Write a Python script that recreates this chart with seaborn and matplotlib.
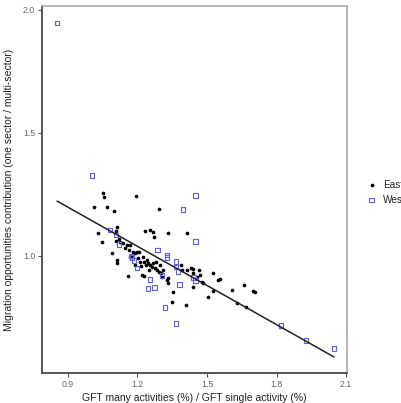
import matplotlib
matplotlib.use("Agg")
import matplotlib.pyplot as plt
import seaborn as sns
import numpy as np
import pandas as pd

east_x = [1.051, 1.055, 1.012, 1.068, 1.099, 1.193, 1.293, 1.029, 1.047, 1.090,
          1.111, 1.107, 1.107, 1.120, 1.124, 1.137, 1.155, 1.168, 1.146, 1.163,
          1.181, 1.189, 1.198, 1.206, 1.232, 1.254, 1.267, 1.271, 1.332, 1.414,
          1.111, 1.111, 1.168, 1.176, 1.224, 1.241, 1.228, 1.237, 1.245, 1.254,
          1.263, 1.267, 1.275, 1.284, 1.293, 1.301, 1.310, 1.306, 1.327, 1.332,
          1.159, 1.219, 1.228, 1.353, 1.349, 1.409, 1.388, 1.392, 1.414, 1.431,
          1.440, 1.440, 1.457, 1.470, 1.478, 1.483, 1.465, 1.440, 1.526, 1.547,
          1.556, 1.526, 1.608, 1.660, 1.698, 1.707, 1.504, 1.629, 1.668, 1.332,
          1.202, 1.211, 1.189, 1.215, 1.250, 1.280, 1.297]
east_y = [1.255, 1.239, 1.198, 1.198, 1.182, 1.243, 1.190, 1.093, 1.057, 1.012,
          1.117, 1.101, 1.061, 1.069, 1.057, 1.053, 1.045, 1.045, 1.032, 1.024,
          1.016, 1.012, 1.016, 1.016, 1.101, 1.105, 1.097, 1.077, 1.093, 1.093,
          0.984, 0.972, 0.996, 1.000, 0.996, 0.984, 0.976, 0.964, 0.972, 0.964,
          0.955, 0.972, 0.951, 0.943, 0.935, 0.931, 0.943, 0.915, 0.903, 0.891,
          0.919, 0.923, 0.919, 0.854, 0.814, 0.802, 0.964, 0.943, 0.943, 0.951,
          0.947, 0.931, 0.915, 0.923, 0.895, 0.891, 0.943, 0.874, 0.931, 0.903,
          0.907, 0.858, 0.862, 0.883, 0.858, 0.854, 0.834, 0.810, 0.794, 0.911,
          0.992, 0.976, 0.964, 0.960, 0.943, 0.976, 0.964]

west_x = [0.853, 1.004, 1.452, 1.396, 1.081, 1.107, 1.120, 1.288, 1.327, 1.327,
          1.366, 1.366, 1.375, 1.176, 1.185, 1.198, 1.254, 1.245, 1.275, 1.306,
          1.383, 1.319, 1.366, 1.452, 1.440, 1.452, 1.819, 1.927, 2.048, 1.172]
west_y = [1.947, 1.328, 1.247, 1.190, 1.105, 1.085, 1.045, 1.024, 1.004, 0.992,
          0.976, 0.955, 0.935, 0.992, 0.980, 0.951, 0.903, 0.866, 0.870, 0.919,
          0.883, 0.789, 0.725, 1.057, 0.911, 0.899, 0.717, 0.656, 0.623, 1.000]

x_ticks = [0.9, 1.2, 1.5, 1.8, 2.1]
y_ticks = [1.0, 1.5, 2.0]
x_label = "GFT many activities (%) / GFT single activity (%)"
y_label = "Migration opportunities contribution (one sector / multi-sector)"

df = pd.DataFrame({
    "x": east_x + west_x,
    "y": east_y + west_y,
    "group": ["East"] * len(east_x) + ["West"] * len(west_x),
})

sns.set_style("white")
plt.rcParams["font.family"] = ["Liberation Sans", "DejaVu Sans"]

fig = plt.figure(figsize=(4.01, 4.03), dpi=100)
ax = fig.add_axes([42 / 401, 1 - 373 / 403, (347 - 42) / 401, (373 - 6) / 403])

blue = "#6262dc"
sns.scatterplot(data=df[df.group == "East"], x="x", y="y", ax=ax, color="black",
                marker="o", s=7, linewidth=0, label="East")
sns.scatterplot(data=df[df.group == "West"], x="x", y="y", ax=ax, marker="s", s=12,
                facecolor="none", edgecolor=blue, linewidth=0.85, label="West")
sns.regplot(data=df, x="x", y="y", ax=ax, scatter=False, ci=None, truncate=True,
            line_kws={"color": "#222222", "linewidth": 1.1})

ax.set_xlim(0.788, 2.104)
ax.set_ylim(0.524, 2.016)
ax.set_xticks(x_ticks)
ax.set_xticklabels([f"{t:.1f}" for t in x_ticks])
ax.set_yticks(y_ticks)
ax.set_yticklabels([f"{t:.1f}" for t in y_ticks])
ax.set_xlabel(x_label, fontsize=7.5, color="#222222", labelpad=3)
ax.set_ylabel(y_label, fontsize=7.5, color="#222222", labelpad=6)
ax.tick_params(axis="both", which="both", length=3, width=0.8, color="#555555",
               labelsize=6.3, labelcolor="#666666", direction="out", pad=2,
               bottom=True, left=True)

for side in ["left", "bottom"]:
    ax.spines[side].set_color("#555555")
    ax.spines[side].set_linewidth(1.4)
for side in ["top", "right"]:
    ax.spines[side].set_color("#aaaaaa")
    ax.spines[side].set_linewidth(1.2)

leg = ax.legend(loc="center left", bbox_to_anchor=(1.042, 0.493), frameon=False,
                fontsize=7.2, handletextpad=0.6, labelspacing=0.5,
                handlelength=1.0, borderaxespad=0.3)
for t in leg.get_texts():
    t.set_color("#222222")

fig.savefig("out.png", dpi=100)
